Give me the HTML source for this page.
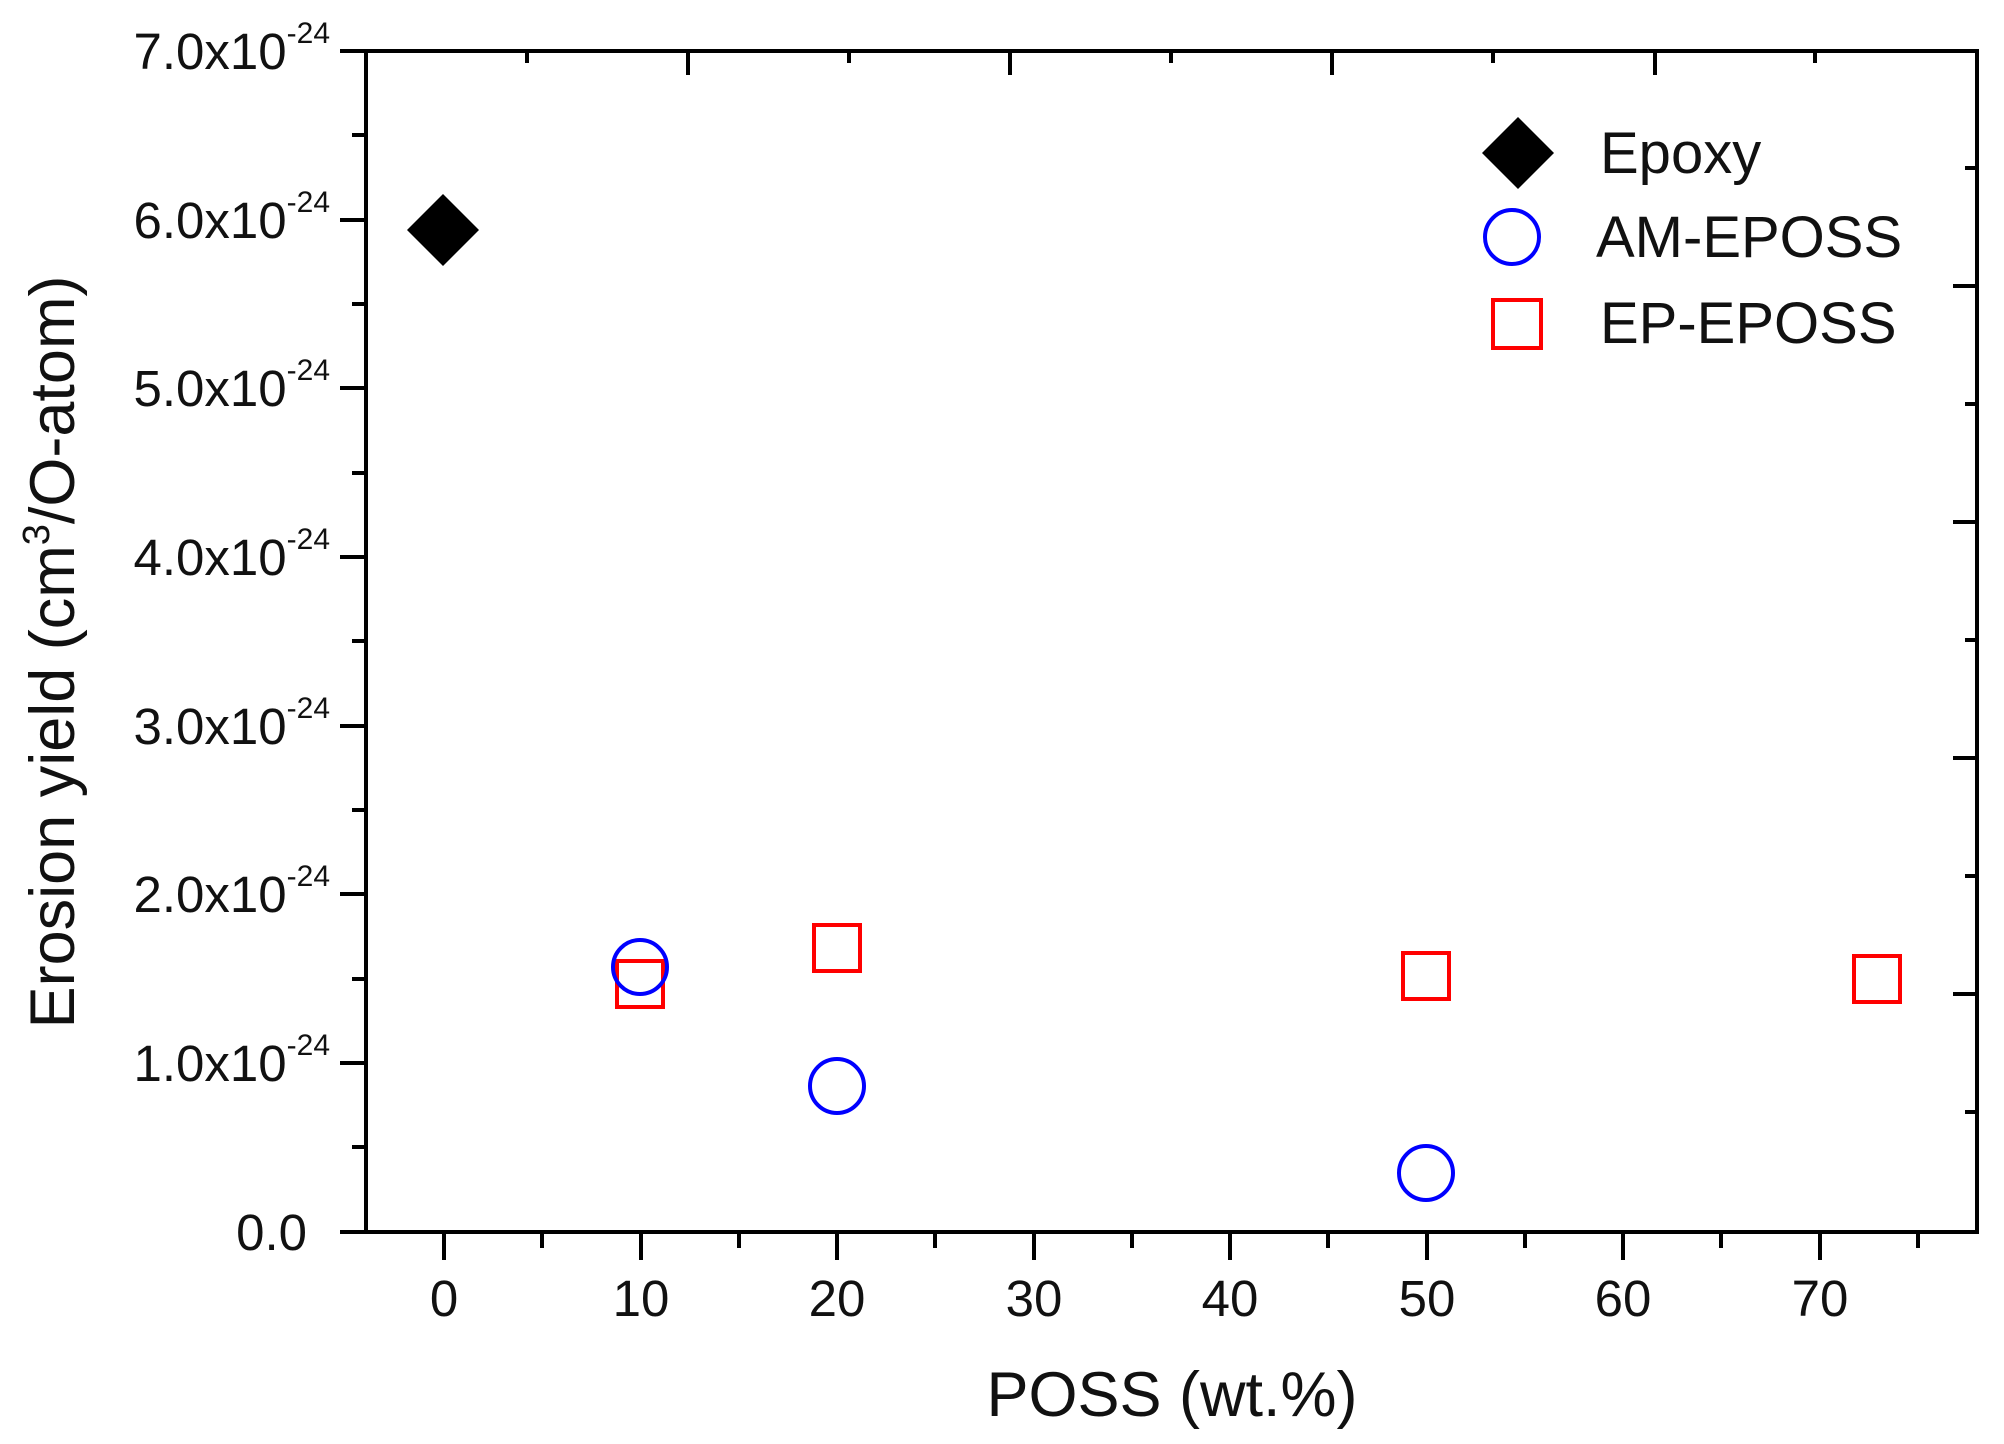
<!DOCTYPE html>
<html><head><meta charset="utf-8"><style>
html,body{margin:0;padding:0;background:#fff;}
svg{display:block;}
text{font-family:"Liberation Sans",Arial,sans-serif;fill:#111;}
</style></head><body>
<svg width="2004" height="1444" viewBox="0 0 2004 1444" xmlns="http://www.w3.org/2000/svg">
<rect width="2004" height="1444" fill="#fff"/>
<rect x="366" y="51" width="1611" height="1181" fill="none" stroke="#000" stroke-width="4"/>
<g stroke="#000" stroke-width="4">
<line x1="340" y1="51" x2="366" y2="51"/>
<line x1="340" y1="220" x2="366" y2="220"/>
<line x1="340" y1="388" x2="366" y2="388"/>
<line x1="340" y1="557" x2="366" y2="557"/>
<line x1="340" y1="726" x2="366" y2="726"/>
<line x1="340" y1="894" x2="366" y2="894"/>
<line x1="340" y1="1063" x2="366" y2="1063"/>
<line x1="340" y1="1232" x2="366" y2="1232"/>
<line x1="352" y1="135" x2="366" y2="135"/>
<line x1="352" y1="304" x2="366" y2="304"/>
<line x1="352" y1="473" x2="366" y2="473"/>
<line x1="352" y1="641" x2="366" y2="641"/>
<line x1="352" y1="810" x2="366" y2="810"/>
<line x1="352" y1="979" x2="366" y2="979"/>
<line x1="352" y1="1147" x2="366" y2="1147"/>
<line x1="444" y1="1232" x2="444" y2="1260"/>
<line x1="641" y1="1232" x2="641" y2="1260"/>
<line x1="837" y1="1232" x2="837" y2="1260"/>
<line x1="1034" y1="1232" x2="1034" y2="1260"/>
<line x1="1230" y1="1232" x2="1230" y2="1260"/>
<line x1="1427" y1="1232" x2="1427" y2="1260"/>
<line x1="1623" y1="1232" x2="1623" y2="1260"/>
<line x1="1820" y1="1232" x2="1820" y2="1260"/>
<line x1="542" y1="1232" x2="542" y2="1248"/>
<line x1="739" y1="1232" x2="739" y2="1248"/>
<line x1="935" y1="1232" x2="935" y2="1248"/>
<line x1="1132" y1="1232" x2="1132" y2="1248"/>
<line x1="1328" y1="1232" x2="1328" y2="1248"/>
<line x1="1525" y1="1232" x2="1525" y2="1248"/>
<line x1="1721" y1="1232" x2="1721" y2="1248"/>
<line x1="1918" y1="1232" x2="1918" y2="1248"/>
<line x1="1493" y1="51" x2="1493" y2="63"/>
<line x1="1655" y1="51" x2="1655" y2="75"/>
<line x1="1815" y1="51" x2="1815" y2="63"/>
<line x1="1332" y1="51" x2="1332" y2="75"/>
<line x1="1171" y1="51" x2="1171" y2="63"/>
<line x1="1010" y1="51" x2="1010" y2="75"/>
<line x1="849" y1="51" x2="849" y2="63"/>
<line x1="688" y1="51" x2="688" y2="75"/>
<line x1="527" y1="51" x2="527" y2="63"/>
<line x1="1965" y1="168" x2="1977" y2="168"/>
<line x1="1953" y1="286" x2="1977" y2="286"/>
<line x1="1965" y1="404" x2="1977" y2="404"/>
<line x1="1953" y1="522" x2="1977" y2="522"/>
<line x1="1965" y1="640" x2="1977" y2="640"/>
<line x1="1953" y1="758" x2="1977" y2="758"/>
<line x1="1965" y1="876" x2="1977" y2="876"/>
<line x1="1953" y1="994" x2="1977" y2="994"/>
<line x1="1965" y1="1112" x2="1977" y2="1112"/>
</g>
<g font-size="51" text-anchor="end">
<text x="330" y="69">7.0x10<tspan font-size="30" dy="-26">-24</tspan></text>
<text x="330" y="238">6.0x10<tspan font-size="30" dy="-26">-24</tspan></text>
<text x="330" y="406">5.0x10<tspan font-size="30" dy="-26">-24</tspan></text>
<text x="330" y="575">4.0x10<tspan font-size="30" dy="-26">-24</tspan></text>
<text x="330" y="744">3.0x10<tspan font-size="30" dy="-26">-24</tspan></text>
<text x="330" y="912">2.0x10<tspan font-size="30" dy="-26">-24</tspan></text>
<text x="330" y="1081">1.0x10<tspan font-size="30" dy="-26">-24</tspan></text>
<text x="307" y="1250">0.0</text>
</g>
<g font-size="51" text-anchor="middle">
<text x="444" y="1316">0</text>
<text x="641" y="1316">10</text>
<text x="837" y="1316">20</text>
<text x="1034" y="1316">30</text>
<text x="1230" y="1316">40</text>
<text x="1427" y="1316">50</text>
<text x="1623" y="1316">60</text>
<text x="1820" y="1316">70</text>
</g>
<text x="1172" y="1416" font-size="63" text-anchor="middle">POSS (wt.%)</text>
<text transform="translate(74,652) rotate(-90)" font-size="63" text-anchor="middle">Erosion yield (cm<tspan font-size="38" dy="-25">3</tspan><tspan dy="25">/O-atom)</tspan></text>
<polygon points="443,194 479,230 443,266 407,230" fill="#000"/>
<g fill="none" stroke="#f00" stroke-width="4">
<rect x="617" y="961" width="46" height="46"/>
<rect x="814" y="925" width="46" height="46"/>
<rect x="1403" y="953" width="46" height="46"/>
<rect x="1854" y="956" width="46" height="46"/>
</g>
<g fill="none" stroke="#00f" stroke-width="4">
<circle cx="640" cy="967" r="27"/>
<circle cx="837" cy="1086" r="27"/>
<circle cx="1426" cy="1173" r="27"/>
</g>
<polygon points="1518,117 1554,153 1518,189 1482,153" fill="#000"/>
<circle cx="1512" cy="237" r="27" fill="none" stroke="#00f" stroke-width="4"/>
<rect x="1493" y="300" width="48" height="48" fill="none" stroke="#f00" stroke-width="4"/>
<g font-size="58">
<text x="1600" y="173">Epoxy</text>
<text x="1596" y="257">AM-EPOSS</text>
<text x="1600" y="343">EP-EPOSS</text>
</g>
</svg>
</body></html>
